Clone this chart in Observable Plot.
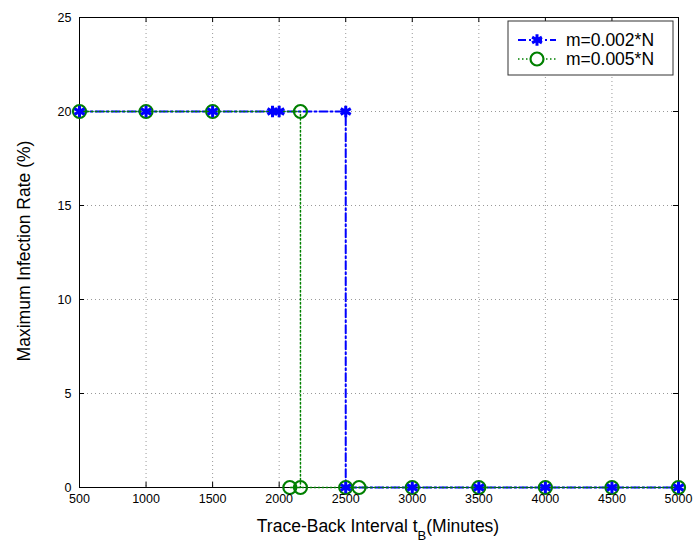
<!DOCTYPE html>
<html>
<head>
<meta charset="utf-8">
<script src="https://cdn.jsdelivr.net/npm/d3@7"></script>
<script src="https://cdn.jsdelivr.net/npm/@observablehq/plot@0.6"></script>
<style>
  body { margin: 0; background: white; }
</style>
</head>
<body>
<div id="chart"></div>
<script>
const xTicks = [500, 1000, 1500, 2000, 2500, 3000, 3500, 4000, 4500, 5000];
const yTicks = [0, 5, 10, 15, 20, 25];

const seriesNames = ["m=0.002*N", "m=0.005*N"];

const blueX = [500, 1000, 1500, 1950, 2000, 2500, 2500, 3000, 3500, 4000, 4500, 5000];
const blueY = [20, 20, 20, 20, 20, 20, 0, 0, 0, 0, 0, 0];

const greenX = [500, 1000, 1500, 2160, 2160, 2080, 2500, 2600, 3000, 3500, 4000, 4500, 5000];
const greenY = [20, 20, 20, 20, 0, 0, 0, 0, 0, 0, 0, 0, 0];

const blue = blueX.map((x, i) => ({x, y: blueY[i]}));
const green = greenX.map((x, i) => ({x, y: greenY[i]}));

const BLUE = "#0000ff", GREEN = "#008000";

const chart = Plot.plot({
  width: 694,
  height: 543,
  marginLeft: 79,
  marginRight: 16,
  marginTop: 17,
  marginBottom: 56,
  style: {fontFamily: "'Liberation Sans', Arial, sans-serif", fontSize: "12px", color: "black", background: "white"},
  x: {domain: [500, 5000], label: null},
  y: {domain: [0, 25], label: null},
  marks: [
    Plot.ruleX(xTicks.slice(1, -1), {stroke: "#999", strokeDasharray: "1,3"}),
    Plot.ruleY(yTicks.slice(1, -1), {stroke: "#999", strokeDasharray: "1,3"}),
    // inward ticks
    Plot.ruleX(xTicks, {y1: 0, y2: 0.27, stroke: "black"}),
    Plot.ruleX(xTicks, {y1: 25, y2: 24.73, stroke: "black"}),
    Plot.ruleY(yTicks, {x1: 500, x2: 538, stroke: "black"}),
    Plot.ruleY(yTicks, {x1: 5000, x2: 4962, stroke: "black"}),
    Plot.frame({stroke: "black"}),
    Plot.line(blue, {x: "x", y: "y", stroke: BLUE, strokeWidth: 2, strokeDasharray: "8,3,2,3"}),
    Plot.line(green, {x: "x", y: "y", stroke: GREEN, strokeWidth: 1.5, strokeDasharray: "1.5,2.5"}),
    Plot.dot(green, {x: "x", y: "y", r: 6.5, stroke: GREEN, strokeWidth: 2.2, fill: "none"}),
    Plot.dot(blue, {x: "x", y: "y", symbol: "asterisk", r: 5.5, stroke: BLUE, strokeWidth: 3}),
    Plot.axisX(xTicks, {tickSize: 0, tickPadding: 7, tickFormat: d => String(d), fontSize: 12.5}),
    Plot.axisY(yTicks, {tickSize: 0, tickPadding: 8, fontSize: 12.5})
  ]
});

document.getElementById("chart").appendChild(chart);

const svg = d3.select(chart);
const font = "'Liberation Sans', Arial, sans-serif";

// X axis label with subscript
const xl = svg.append("text")
  .attr("x", 378).attr("y", 532)
  .attr("text-anchor", "middle")
  .attr("font-family", font).attr("font-size", 17.5).attr("fill", "black");
xl.append("tspan").text("Trace-Back Interval t");
xl.append("tspan").attr("font-size", 13).attr("dy", 8).text("B");
xl.append("tspan").attr("dy", -8).text("(Minutes)");

// Y axis label
svg.append("text")
  .attr("transform", "translate(30,251) rotate(-90)")
  .attr("text-anchor", "middle")
  .attr("font-family", font).attr("font-size", 17.5).attr("fill", "black")
  .text("Maximum Infection Rate (%)");

// Legend
const lg = svg.append("g").attr("text-anchor", "start");
lg.append("rect").attr("x", 508).attr("y", 21).attr("width", 165).attr("height", 54)
  .attr("fill", "white").attr("stroke", "#333").attr("stroke-width", 1);
const rows = [
  {name: seriesNames[0], y: 40, color: BLUE, dash: "8,3,2,3", w: 2, sym: "star"},
  {name: seriesNames[1], y: 59, color: GREEN, dash: "1.5,2.5", w: 1.5, sym: "circle"}
];
rows.forEach(r => {
  lg.append("line").attr("x1", 518).attr("x2", 556).attr("y1", r.y).attr("y2", r.y)
    .attr("stroke", r.color).attr("stroke-width", r.w).attr("stroke-dasharray", r.dash);
  if (r.sym === "star") {
    lg.append("path").attr("transform", `translate(537,${r.y})`)
      .attr("d", d3.symbol(d3.symbolAsterisk, 90)())
      .attr("stroke", r.color).attr("stroke-width", 3).attr("fill", "none");
  } else {
    lg.append("circle").attr("cx", 537).attr("cy", r.y).attr("r", 6.5)
      .attr("stroke", r.color).attr("stroke-width", 2.2).attr("fill", "white");
  }
  lg.append("text").attr("x", 566).attr("y", r.y).attr("dy", "0.35em")
    .attr("text-anchor", "start")
    .attr("font-family", font).attr("font-size", 17.5).attr("fill", "black").text(r.name);
});
</script>
</body>
</html>
